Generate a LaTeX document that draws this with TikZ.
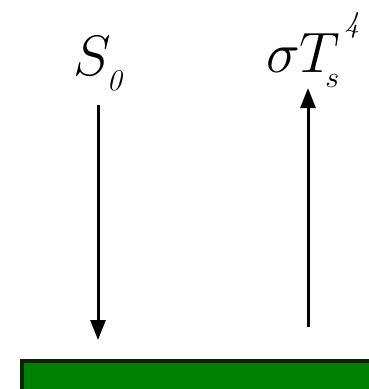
\documentclass[tikz,border=0pt]{standalone}
\usepackage{fix-cm}
\usepackage{fontspec}
\usetikzlibrary{arrows.meta}
\definecolor{groundfill}{RGB}{0,128,0}
\definecolor{groundedge}{RGB}{0,40,0}
\tikzset{
  flux/.style={line width=3pt, -{Triangle[width=15pt,length=20pt]}},
  bigmath/.style={inner sep=0pt, anchor=base west, font=\fontsize{57}{57}\selectfont},
}
\newcommand{\scr}[1]{{\fontsize{30}{30}\selectfont #1}}
\begin{document}
\begin{tikzpicture}[x=1pt,y=-1pt]
\useasboundingbox (0,0) rectangle (369,389);
% ground surface
\node[draw=groundedge, line width=4pt, fill=groundfill, inner sep=0pt,
      minimum width=380pt, minimum height=60pt, anchor=north west] (ground) at (20,359) {};
% labels
\node[bigmath] (solar) at (73,75) {$S$\kern-4pt\raisebox{-15pt}{\scr{\itshape 0}}};
\node[bigmath] (emit) at (266,72) {$\sigma T$\kern-15pt\raisebox{-15pt}{\scr{$s$}}\kern5pt\raisebox{40pt}{\scr{\itshape 4}}};
% incoming and outgoing fluxes
\coordinate (inTop) at (98,105);
\coordinate (inTip) at (98,340);
\coordinate (outBot) at (308,327);
\coordinate (outTip) at (308,88);
\draw[flux] (inTop) -- (inTip);
\draw[flux] (outBot) -- (outTip);
\end{tikzpicture}
\end{document}
